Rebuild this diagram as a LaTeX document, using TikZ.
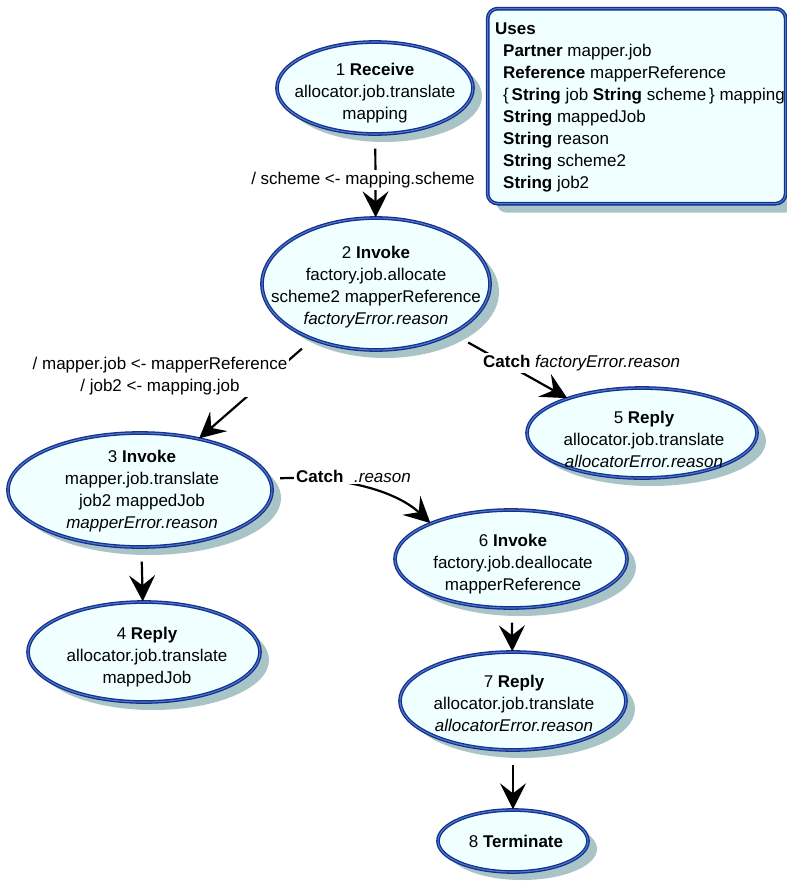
\documentclass[tikz,border=0pt]{standalone}
\usepackage{fontspec}
\setmainfont{Liberation Sans}
\usetikzlibrary{shapes.geometric,shadows,arrows.meta}

\definecolor{navyc}{RGB}{18,48,140}
\definecolor{bluec}{RGB}{80,120,205}
\definecolor{azurec}{RGB}{240,255,255}
\definecolor{shadowc}{RGB}{168,196,198}

\tikzset{
  state/.style={ellipse, draw=navyc, double=bluec, double distance=1.1pt,
    line width=1.3pt, fill=azurec, inner sep=0pt,
    drop shadow={shadow xshift=9pt, shadow yshift=-8pt, fill=shadowc, opacity=1}},
  usesbox/.style={rectangle, rounded corners=10pt, draw=navyc, double=bluec,
    double distance=1.1pt, line width=1.3pt, fill=azurec, inner sep=0pt,
    drop shadow={shadow xshift=9pt, shadow yshift=-9pt, fill=shadowc, opacity=1}},
  txt/.style={align=center, inner sep=0pt},
  conn/.style={draw=black, line width=2.2pt, shorten <=14pt,
    -{Stealth[length=26pt,width=26pt,inset=10pt]}},
  lbl/.style={fill=white, inner sep=2pt, align=center}
}

\begin{document}
\begin{tikzpicture}[x=1pt, y=-1pt, font=\fontsize{17}{22}\selectfont]
\useasboundingbox (0,0) rectangle (787,881);

% states
\node[state, minimum width=196pt, minimum height=92pt]  (n1) at (375,88)  {};
\node[state, minimum width=228pt, minimum height=132pt] (n2) at (376,284) {};
\node[state, minimum width=264pt, minimum height=114pt] (n3) at (140,490) {};
\node[state, minimum width=232pt, minimum height=100pt] (n4) at (144,652) {};
\node[state, minimum width=230pt, minimum height=90pt]  (n5) at (642,433) {};
\node[state, minimum width=232pt, minimum height=98pt]  (n6) at (511,559) {};
\node[state, minimum width=226pt, minimum height=98pt]  (n7) at (513,701) {};
\node[state, minimum width=150pt, minimum height=62pt]  (n8) at (513,841) {};

\node[txt] (t1) at (375,93)  {1 \textbf{Receive}\\allocator.job.translate\\mapping};
\node[txt] (t2) at (376,287) {2 \textbf{Invoke}\\factory.job.allocate\\scheme2 mapperReference\\\textit{factoryError.reason}};
\node[txt] (t3) at (142,491) {3 \textbf{Invoke}\\mapper.job.translate\\job2 mappedJob\\\textit{mapperError.reason}};
\node[txt] (t4) at (147,657) {4 \textbf{Reply}\\allocator.job.translate\\mappedJob};
\node[txt] (t5) at (644,439) {5 \textbf{Reply}\\allocator.job.translate\\\textit{allocatorError.reason}};
\node[txt] (t6) at (513,564) {6 \textbf{Invoke}\\factory.job.deallocate\\mapperReference};
\node[txt] (t7) at (514,703) {7 \textbf{Reply}\\allocator.job.translate\\\textit{allocatorError.reason}};
\node[txt] (t8) at (516,841) {8 \textbf{Terminate}};

% declarations box
\node[usesbox, minimum width=298pt, minimum height=195pt, anchor=north west] (uses) at (487,8) {};
\node[txt, align=left, anchor=north west] (usestxt) at (495,23)
  {\textbf{Uses}\\
   \hspace*{8pt}\textbf{Partner} mapper.job\\
   \hspace*{8pt}\textbf{Reference} mapperReference\\
   \hspace*{8pt}\{\,\textbf{String} job \textbf{String} scheme\,\} mapping\\
   \hspace*{8pt}\textbf{String} mappedJob\\
   \hspace*{8pt}\textbf{String} reason\\
   \hspace*{8pt}\textbf{String} scheme2\\
   \hspace*{8pt}\textbf{String} job2};

% transitions
\draw[conn] (n1) -- (n2);
\draw[conn] (n2) -- (n3);
\draw[conn, shorten <=18pt] (n2.-33) -- (n5.155);
\draw[conn, shorten <=10pt] (n3.5) .. controls (340,476) and (395,490) .. (n6.156);
\draw[conn] (n3) -- (n4);
\draw[conn] (n6) -- (n7);
\draw[conn] (n7) -- (n8);

% transition labels
\node[lbl] (l12) at (363,180) {/ scheme <- mapping.scheme};
\node[lbl] (l23) at (160,376) {/ mapper.job <- mapperReference\\/ job2 <- mapping.job};
\node[lbl, anchor=west] (l25) at (481,363) {\textbf{Catch} \textit{factoryError.reason}};
\node[lbl, anchor=west] (l36) at (294,476) {\textbf{Catch}\hspace{6pt} \textit{.reason}};
\end{tikzpicture}
\end{document}
